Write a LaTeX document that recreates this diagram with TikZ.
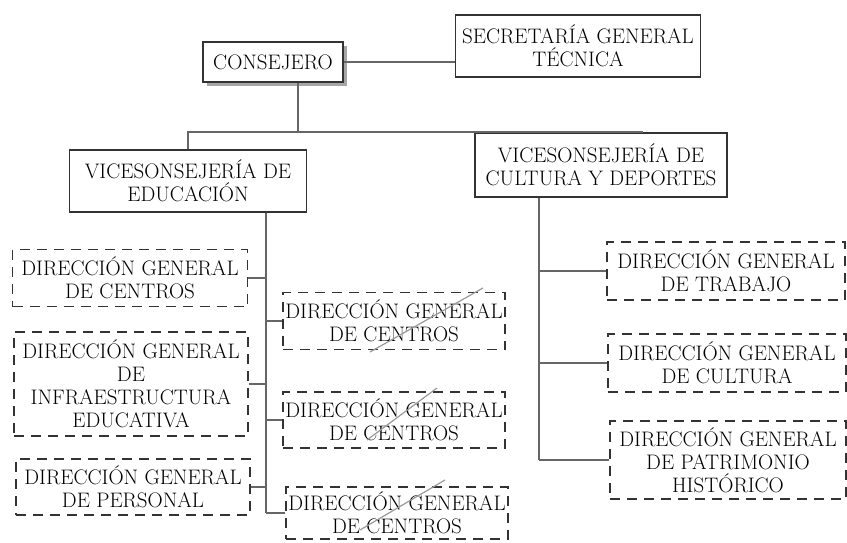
\documentclass[tikz,border=0pt]{standalone}
\usepackage{fontspec}
\usetikzlibrary{shadows}
\begin{document}
\begin{tikzpicture}[x=1pt, y=-1pt,
  every node/.style={font=\fontsize{21}{23}\selectfont, align=center, inner sep=0pt},
  solidbox/.style={draw=black!80, line width=1.1pt, fill=white},
  dashbox/.style={draw=black!80, line width=1.1pt, dash pattern=on 10pt off 7pt},
  link/.style={draw=black!60, line width=1.2pt},
  pencil/.style={draw=black!40, line width=1.2pt}]

\useasboundingbox (0,0) rectangle (847,543); % Page area

% Top level
\node[solidbox, minimum width=140pt, minimum height=40pt,
  drop shadow={shadow xshift=4pt, shadow yshift=-4pt, fill=black!35, opacity=1}] (cons) at (273,62) {CONSEJERO};
\node[solidbox, minimum width=245pt, minimum height=62pt] (sec) at (578,46) {SECRETARÍA GENERAL\\TÉCNICA};

% Vice-departments
\node[solidbox, minimum width=237pt, minimum height=62pt] (edu) at (188,181) {VICESONSEJERÍA DE\\EDUCACIÓN};
\node[solidbox, minimum width=252pt, minimum height=64pt] (cult) at (601,165) {VICESONSEJERÍA DE\\CULTURA Y DEPORTES};

% Directorates - Educación, left column
\node[dashbox, minimum width=235pt, minimum height=57pt] (centrosA) at (130,278) {DIRECCIÓN GENERAL\\DE CENTROS};
\node[dashbox, minimum width=234pt, minimum height=104pt] (infra) at (131,384) {DIRECCIÓN GENERAL\\DE\\INFRAESTRUCTURA\\EDUCATIVA};
\node[dashbox, minimum width=234pt, minimum height=56pt] (personal) at (133,487) {DIRECCIÓN GENERAL\\DE PERSONAL};

% Directorates - Educación, right column
\node[dashbox, minimum width=222pt, minimum height=57pt] (centrosB) at (394,321) {DIRECCIÓN GENERAL\\DE CENTROS};
\node[dashbox, minimum width=222pt, minimum height=56pt] (centrosC) at (394,420) {DIRECCIÓN GENERAL\\DE CENTROS};
\node[dashbox, minimum width=222pt, minimum height=52pt] (centrosD) at (397,513) {DIRECCIÓN GENERAL\\DE CENTROS};

% Directorates - Cultura
\node[dashbox, minimum width=238pt, minimum height=58pt] (trabajo) at (726,271) {DIRECCIÓN GENERAL\\DE TRABAJO};
\node[dashbox, minimum width=238pt, minimum height=58pt] (cultura) at (727,363) {DIRECCIÓN GENERAL\\DE CULTURA};
\node[dashbox, minimum width=236pt, minimum height=78pt] (patrimonio) at (728,460) {DIRECCIÓN GENERAL\\DE PATRIMONIO\\HISTÓRICO};

% Consejero - Secretaría
\draw[link] (cons.east) -- (cons.east -| sec.west);

% Consejero down to the two vice-departments
\coordinate (drop) at ([xshift=25pt]cons.south);
\coordinate (bar) at (0,132);
\coordinate (cultdrop) at ([xshift=41pt]cult.north);
\draw[link] (drop) -- (drop |- bar);
\draw[link] (edu.north) -- (edu.north |- bar) -- (cultdrop |- bar) -- (cultdrop);

% Educación spine and branches
\coordinate (eduspine) at ([xshift=78pt]edu.south);
\draw[link] (eduspine) -- (eduspine |- centrosD.west);
\draw[link] (centrosA.east) -- (centrosA.east -| eduspine);
\draw[link] (infra.east) -- (infra.east -| eduspine);
\draw[link] (personal.east) -- (personal.east -| eduspine);
\draw[link] (eduspine |- centrosB.west) -- (centrosB.west);
\draw[link] (eduspine |- centrosC.west) -- (centrosC.west);
\draw[link] (eduspine |- centrosD.west) -- (centrosD.west);

% Cultura spine and branches
\coordinate (cultspine) at ([xshift=-62pt]cult.south);
\draw[link] (cultspine) -- (cultspine |- patrimonio.west);
\draw[link] (cultspine |- trabajo.west) -- (trabajo.west);
\draw[link] (cultspine |- cultura.west) -- (cultura.west);
\draw[link] (cultspine |- patrimonio.west) -- (patrimonio.west);

% Pencil strokes over the repeated boxes
\draw[pencil] (370,352) -- (483,288);
\draw[pencil] (367,440) -- (437,388);
\draw[pencil] (360,530) -- (445,480);

\end{tikzpicture}
\end{document}
